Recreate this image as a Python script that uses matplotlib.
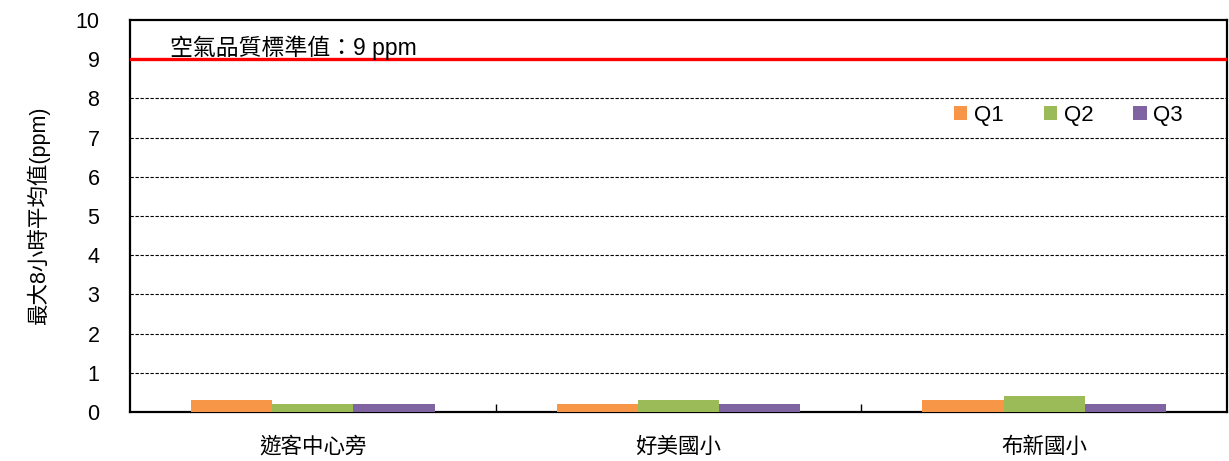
import matplotlib

matplotlib.use("Agg")
import matplotlib.pyplot as plt
import numpy as np

plt.rcParams["font.family"] = ["Liberation Sans", "Noto Sans CJK TC"]

sites = ["遊客中心旁", "好美國小", "布新國小"]
quarters = ["Q1", "Q2", "Q3"]
q1 = [0.3, 0.2, 0.3]
q2 = [0.2, 0.3, 0.4]
q3 = [0.2, 0.2, 0.2]
colors = ["#f79646", "#9bbb59", "#8064a2"]
standard = 9
yticks = list(range(0, 11))

fig = plt.figure(figsize=(12.29, 4.61), dpi=100)
ax = fig.add_axes([130 / 1229, 1 - 412 / 461, 1097 / 1229, 392 / 461])

x = np.arange(len(sites))
bw = 2 / 9
for i, (vals, c, lab) in enumerate(zip([q1, q2, q3], colors, quarters)):
    ax.bar(x + (i - 1) * bw, vals, bw, color=c, label=lab, zorder=3)

ax.axhline(standard, color="red", lw=2.4, zorder=4)
ax.text(-0.39, standard - 0.03, "空氣品質標準值：9 ppm", fontsize=16.5, va="bottom", zorder=5)

ax.set_xlim(-0.5, len(sites) - 0.5)
ax.set_ylim(0, 10)
ax.set_yticks(yticks)
ax.tick_params(axis="y", length=0, labelsize=15.5, pad=22)
for y in yticks[1:-1]:
    ax.axhline(y, color="black", lw=0.8, ls=(0, (3, 1.5)), zorder=1)

ax.set_xticks(x)
ax.set_xticklabels(sites, fontsize=15.5)
ax.tick_params(axis="x", length=0, pad=18)
ax.set_xticks([0.5, 1.5], minor=True)
ax.tick_params(axis="x", which="minor", direction="in", length=6, width=1)

for s in ax.spines.values():
    s.set_linewidth(1.6)

ax.set_ylabel("最大8小時平均值(ppm)", fontsize=15.5, labelpad=18)

ax.legend(loc="upper right", bbox_to_anchor=(0.978, 0.835), ncol=3, frameon=False,
          fontsize=16, handlelength=0.6, handleheight=0.6, handletextpad=0.3,
          columnspacing=1.8)

fig.savefig("out.png", dpi=100)
